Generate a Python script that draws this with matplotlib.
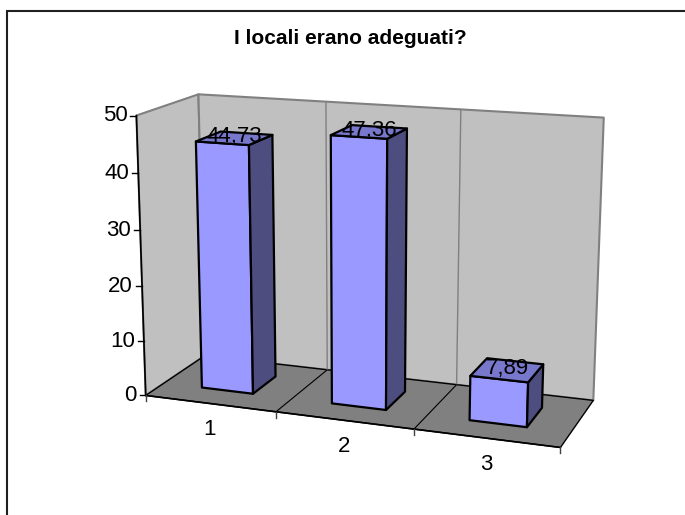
import numpy as np
import matplotlib.pyplot as plt
from matplotlib.patches import Polygon, Rectangle

plt.rcParams['font.family'] = ['Liberation Sans', 'DejaVu Sans']

# data
title = "I locali erano adeguati?"
categories = ["1", "2", "3"]
values = [44.73, 47.36, 7.89]
value_labels = ["44,73", "47,36", "7,89"]
y_ticks = [0, 10, 20, 30, 40, 50]
y_max = 50

# 3D box layout: (category, depth, value) -> figure pixel, used to fit a perspective camera
box_world = [(0, 0, 0), (0, 0, 50), (0, 1, 0), (0, 1, 50), (3, 1, 0), (3, 1, 50),
             (3, 0, 0), (1, 0, 0), (2, 0, 0), (1, 1, 50), (2, 1, 50),
             (0, 0, 10), (0, 0, 20), (0, 0, 30), (0, 0, 40)]
box_pixels = [(147, 395), (135, 116), (203, 357), (200, 94), (593, 400), (603, 118),
              (562, 448), (277, 412), (412, 429), (327, 101), (461, 109),
              (144.6, 340), (142.2, 286), (139.8, 230), (137.4, 175)]

n_cat = len(categories)
scale = np.array([n_cat, 1.0, y_max])
px_c = np.array([340.0, 270.0])
px_s = 300.0


def fit_camera(world, pixels):
    rows = []
    for w, p in zip(world, pixels):
        X, Y, Z = np.array(w) / scale
        u, v = (np.array(p) - px_c) / px_s
        rows.append([X, Y, Z, 1, 0, 0, 0, 0, -u * X, -u * Y, -u * Z, -u])
        rows.append([0, 0, 0, 0, X, Y, Z, 1, -v * X, -v * Y, -v * Z, -v])
    _, _, vt = np.linalg.svd(np.array(rows))
    return vt[-1].reshape(3, 4)


P = fit_camera(box_world, box_pixels)


def proj(s, z, v):
    h = P @ np.array([s / scale[0], z / scale[1], v / scale[2], 1.0])
    return h[0] / h[2] * px_s + px_c[0], h[1] / h[2] * px_s + px_c[1]


def face(ax, pts, fc, ec, lw=1.0, z=1):
    ax.add_patch(Polygon([proj(*p) for p in pts], closed=True, fc=fc, ec=ec,
                         lw=lw, zorder=z, joinstyle='round'))


def line(ax, p0, p1, color, lw=1.0, z=2):
    a, b = proj(*p0), proj(*p1)
    ax.plot([a[0], b[0]], [a[1], b[1]], color=color, lw=lw, zorder=z,
            solid_capstyle='round')


fig = plt.figure(figsize=(6.85, 5.15), dpi=100)
ax = fig.add_axes([0, 0, 1, 1])
ax.set_xlim(0, 685)
ax.set_ylim(515, 0)
ax.axis('off')

wall = '#C0C0C0'
edge = '#808080'
fs = 16

# walls and floor
face(ax, [(0, 0, 0), (0, 0, y_max), (0, 1, y_max), (0, 1, 0)], wall, edge, 1.5)
face(ax, [(0, 1, 0), (0, 1, y_max), (n_cat, 1, y_max), (n_cat, 1, 0)], wall, edge, 1.5)
face(ax, [(0, 0, 0), (n_cat, 0, 0), (n_cat, 1, 0), (0, 1, 0)], '#808080', 'black', 1.0, 2)

for i in range(1, n_cat):
    line(ax, (i, 1, 0), (i, 1, y_max), edge, 1.0)
    line(ax, (i, 0, 0), (i, 1, 0), 'black', 0.8, 3)

# axes
line(ax, (0, 0, 0), (0, 0, y_max), 'black', 1.2, 3)
line(ax, (0, 0, 0), (n_cat, 0, 0), 'black', 1.2, 3)
for t in y_ticks:
    x0, y0 = proj(0, 0, t)
    ax.plot([x0 - 6, x0], [y0, y0], color='black', lw=1.0, zorder=3)
    ax.text(x0 - 9, y0, str(t), ha='right', va='center', fontsize=fs)
for i in range(n_cat + 1):
    x0, y0 = proj(i, 0, 0)
    ax.plot([x0, x0], [y0, y0 + 6], color='#404040', lw=1.0, zorder=3)
for i, c in enumerate(categories):
    x0, y0 = proj(i + 0.5, 0, 0)
    ax.text(x0, y0 + 26, c, ha='center', va='center', fontsize=fs)

# bars
bw, z0, z1 = 0.4, 0.3, 0.72
for i, v in enumerate(values):
    s0, s1 = i + 0.5 - bw / 2, i + 0.5 + bw / 2
    face(ax, [(s0, z0, 0), (s1, z0, 0), (s1, z0, v), (s0, z0, v)], '#9999FF', 'black', 1.6, 4)
    face(ax, [(s1, z0, 0), (s1, z1, 0), (s1, z1, v), (s1, z0, v)], '#4D4D80', 'black', 1.6, 4)
    face(ax, [(s0, z0, v), (s1, z0, v), (s1, z1, v), (s0, z1, v)], '#7777CC', 'black', 1.6, 4)
    xc, yc = proj(i + 0.5, (z0 + z1) / 2, v)
    ax.text(xc, yc - 1.5, value_labels[i], ha='center', va='center', fontsize=fs, zorder=5)

fig.text(350 / 685, 1 - 39 / 515, title, ha='center', va='center', fontsize=15,
         fontweight='bold')
fig.patches.append(Rectangle((7 / 685, -0.05), 1.1, 1 - 11 / 515 + 0.05,
                             transform=fig.transFigure, fill=False, ec='#202020', lw=1.5))

fig.savefig('out.png', dpi=100)
